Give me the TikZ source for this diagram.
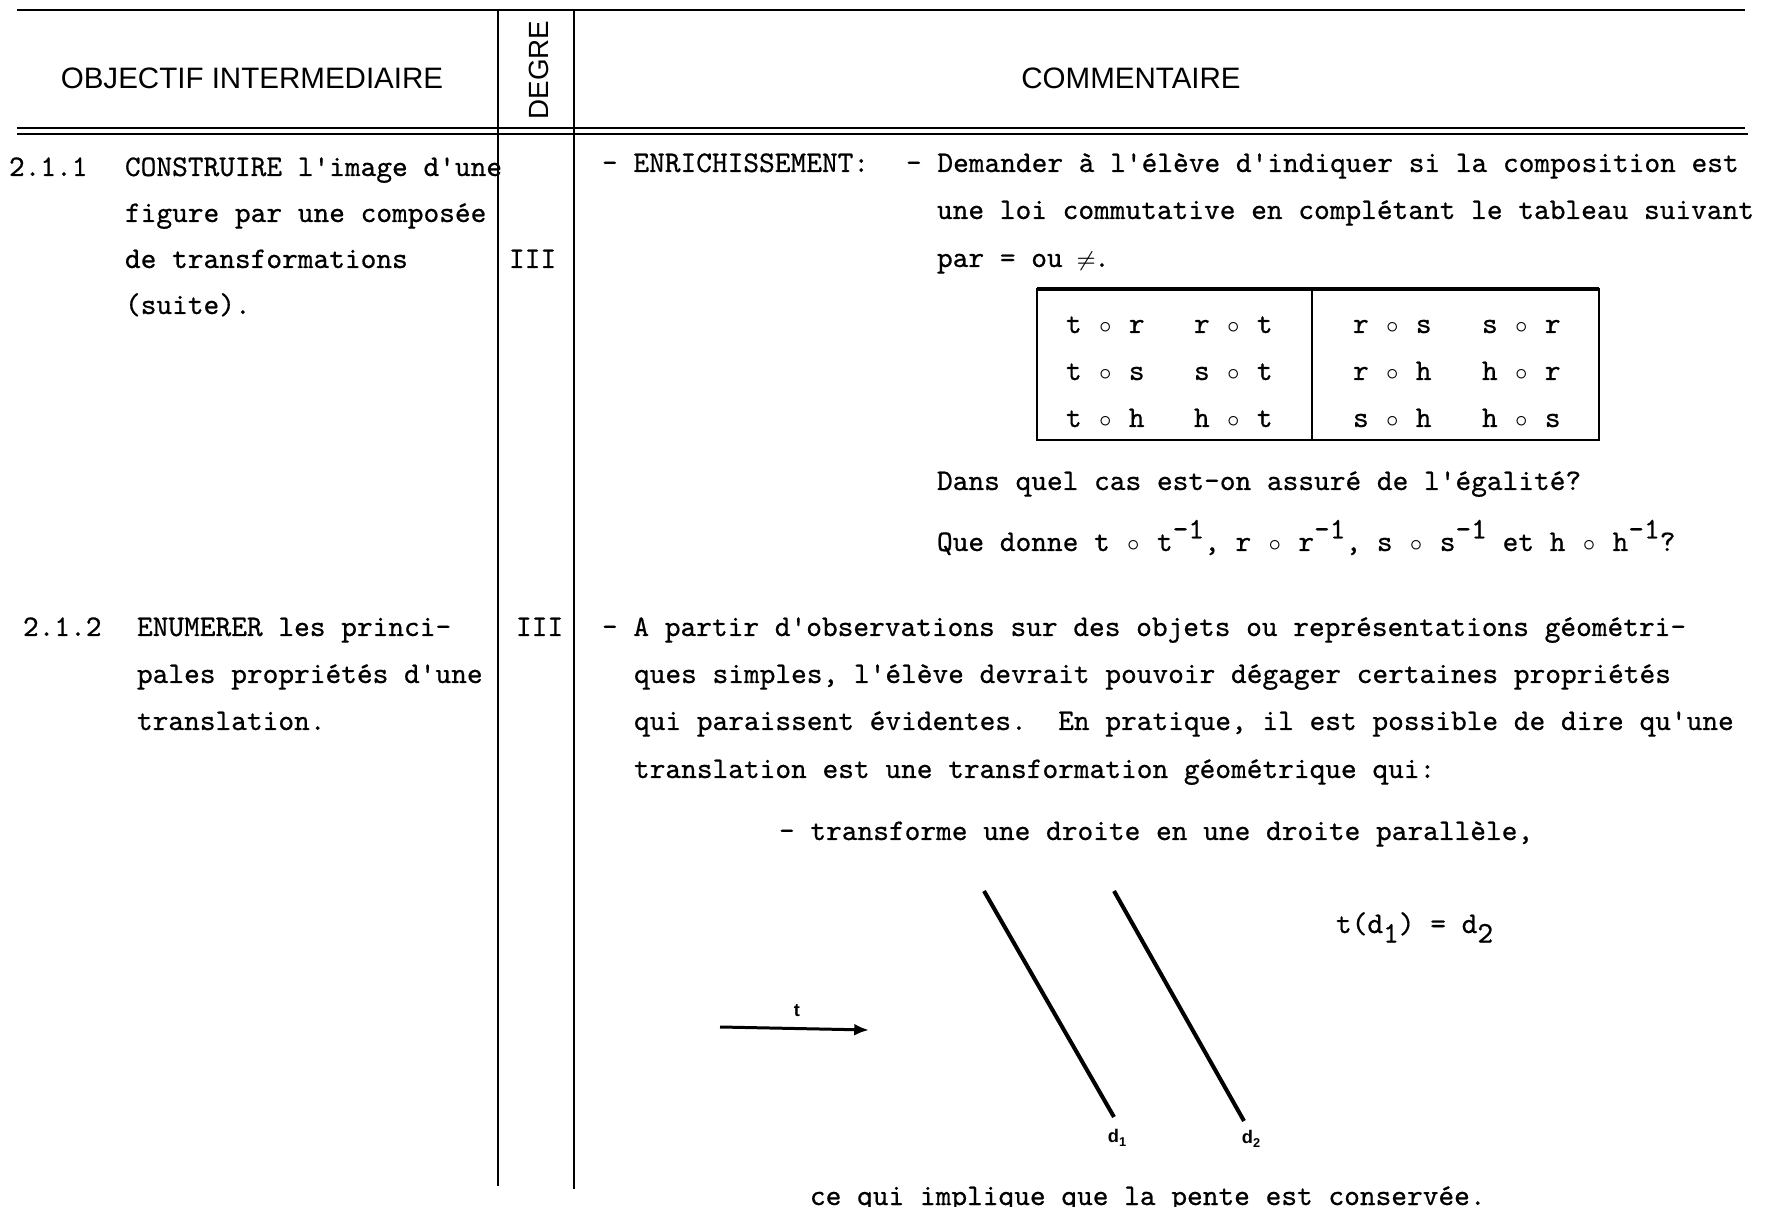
\documentclass[tikz,border=0pt]{standalone}
\usepackage{fontspec}
\setsansfont{Liberation Sans}
\setmonofont[FakeBold=0.6]{lmmono10-regular.otf}
\usetikzlibrary{arrows.meta}

% one typewriter cell
\newlength\pitch
\setlength\pitch{4.468pt}
\newcommand\cel[1]{\makebox[\pitch]{#1}}
\newcommand\rond{\cel{$\scriptstyle\circ$}}
\newcommand\diff{\cel{$\scriptstyle\neq$}}
\newcommand\expo[1]{\raisebox{0.42em}{#1}}
\newcommand\indice[1]{\raisebox{-0.32em}{#1}}

\tikzset{
  tw/.style={font=\ttfamily\fontsize{8.51}{10}\selectfont, anchor=base west, inner sep=0pt, outer sep=0pt},
  hd/.style={font=\sffamily\fontsize{8.4}{10}\selectfont, inner sep=0pt},
  lbl/.style={font=\sffamily\bfseries\fontsize{5.2}{6}\selectfont, inner sep=0pt},
  frame/.style={line width=0.6pt, black},
  droite/.style={line width=1.15pt, black},
}

\begin{document}
\begin{tikzpicture}[x=0.01cm, y=-0.01cm]
\useasboundingbox (0,0) rectangle (1788,1207);
\fill[white] (0,0) rectangle (1788,1207);

% ---- table frame ----
\coordinate (tl) at (17,10);   \coordinate (tr) at (1745,10);
\coordinate (h1l) at (17,128); \coordinate (h1r) at (1745,128);
\coordinate (h2l) at (17,134); \coordinate (h2r) at (1748,134);
\coordinate (c1t) at (498,10); \coordinate (c1b) at (498,1186);
\coordinate (c2t) at (574,10); \coordinate (c2b) at (574,1189);
\draw[frame] (tl) -- (tr);
\draw[frame] (h1l) -- (h1r);
\draw[frame] (h2l) -- (h2r);
\draw[frame] (c1t) -- (c1b);
\draw[frame] (c2t) -- (c2b);

% ---- headings ----
\node[hd] (hobj) at (252,78) {OBJECTIF INTERMEDIAIRE};
\node[hd, rotate=90, font=\sffamily\fontsize{7.9}{9}\selectfont] (hdeg) at (539,70) {DEGRE};
\node[hd] (hcom) at (1131,78) {COMMENTAIRE};

% ---- 2.1.1 ----
\node[tw] (n211) at (9,176) {2.1.1};
\node[tw] (o1a) at (125,176) {CONSTRUIRE l'image d'une};
\node[tw] (o1b) at (125,222) {figure par une composée};
\node[tw] (o1c) at (125,268) {de transformations};
\node[tw] (o1d) at (125,314) {(suite).};
\node[tw] (g1) at (509,268) {III};

\node[tw] (k1a) at (602,172) {- ENRICHISSEMENT:};
\node[tw] (k1b) at (906,172) {- Demander à l'élève d'indiquer si la composition est};
\node[tw] (k1c) at (937,219) {une loi commutative en complétant le tableau suivant};
\node[tw] (k1d) at (937,267) {par = ou \diff.};

% small table of compositions
\coordinate (bx1) at (1037,289);
\coordinate (bx2) at (1599,440);
\coordinate (dvt) at (1312,289);
\coordinate (dvb) at (1312,440);
\draw[frame] (bx1) rectangle (bx2);
\draw[line width=1pt] (bx1) -- (1599,289);
\draw[frame] (dvt) -- (dvb);

\node[tw] (e11) at (1066,333) {t \rond\ r};
\node[tw] (e12) at (1194,333) {r \rond\ t};
\node[tw] (e13) at (1353,333) {r \rond\ s};
\node[tw] (e14) at (1482,333) {s \rond\ r};
\node[tw] (e21) at (1066,380) {t \rond\ s};
\node[tw] (e22) at (1194,380) {s \rond\ t};
\node[tw] (e23) at (1353,380) {r \rond\ h};
\node[tw] (e24) at (1482,380) {h \rond\ r};
\node[tw] (e31) at (1066,427) {t \rond\ h};
\node[tw] (e32) at (1194,427) {h \rond\ t};
\node[tw] (e33) at (1353,427) {s \rond\ h};
\node[tw] (e34) at (1482,427) {h \rond\ s};

\node[tw] (k1e) at (937,490) {Dans quel cas est-on assuré de l'égalité?};
\node[tw] (k1f) at (937,551) {Que donne t \rond\ t\expo{-1}, r \rond\ r\expo{-1}, s \rond\ s\expo{-1} et h \rond\ h\expo{-1}?};

% ---- 2.1.2 ----
\node[tw] (n212) at (23,636) {2.1.2};
\node[tw] (o2a) at (137,636) {ENUMERER les princi-};
\node[tw] (o2b) at (137,683) {pales propriétés d'une};
\node[tw] (o2c) at (137,730) {translation.};
\node[tw] (g2) at (516,636) {III};

\node[tw] (k2a) at (602,636) {- A partir d'observations sur des objets ou représentations géométri-};
\node[tw] (k2b) at (634,683) {ques simples, l'élève devrait pouvoir dégager certaines propriétés};
\node[tw] (k2c) at (634,730) {qui paraissent évidentes.\ \ En pratique, il est possible de dire qu'une};
\node[tw] (k2d) at (634,778) {translation est une transformation géométrique qui:};
\node[tw] (k2e) at (779,840) {- transforme une droite en une droite parallèle,};

% translation vector and the two parallel lines
\coordinate (va) at (720,1027);
\coordinate (vb) at (869,1030);
\draw[line width=0.85pt, -{Latex[length=4.2pt, width=3.4pt]}] (va) -- (vb);
\node[lbl] (tv) at (797,1011) {t};

\coordinate (d1t) at (984,891);  \coordinate (d1b) at (1114,1117);
\coordinate (d2t) at (1114,891); \coordinate (d2b) at (1244,1121);
\draw[droite] (d1t) -- (d1b);
\draw[droite] (d2t) -- (d2b);
\node[lbl] (ld1) at (1118,1138) {d\textsubscript{1}};
\node[lbl] (ld2) at (1252,1139) {d\textsubscript{2}};

\node[tw] (eq) at (1336,933) {t(d\indice{1}) = d\indice{2}};

\node[tw] (k2f) at (810,1205) {ce qui implique que la pente est conservée.};
\end{tikzpicture}
\end{document}
